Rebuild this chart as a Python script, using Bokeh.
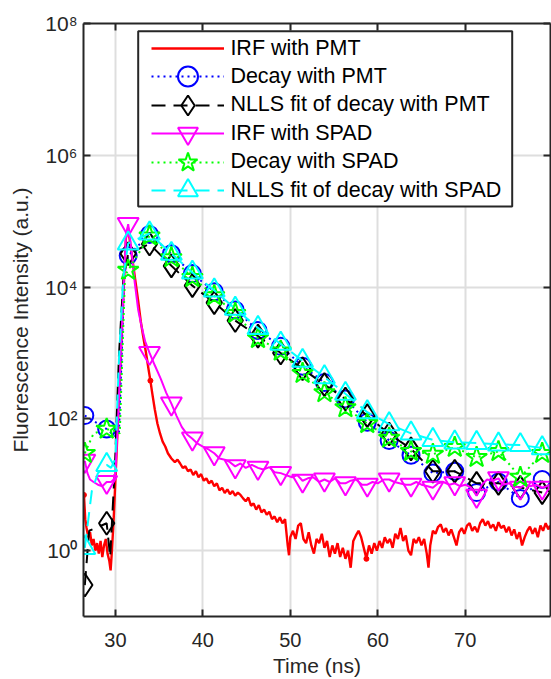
from bokeh.plotting import figure
from bokeh.models import (Range1d, FixedTicker, LinearAxis, LogAxis, Legend,
                          LegendItem, BoxAnnotation)
from bokeh.embed import file_html
from bokeh.resources import INLINE

FONT = "Liberation Sans"
AX = "#262626"

# ---------------- data ----------------
x_ticks = [30, 40, 50, 60, 70]
y_ticks = [1, 100, 1e4, 1e6, 1e8]
y_tick_labels = ["10⁰", "10²", "10⁴", "10⁶", "10⁸"]

# time of the markers (ns)
t_markers = [26.5, 29.0, 31.46, 33.9, 36.4, 38.8, 41.3, 43.7, 46.3, 48.9, 51.4,
             53.9, 56.3, 58.8, 61.3, 63.8, 66.3, 68.8, 71.3, 73.8, 76.3, 78.8]

# IRF with PMT (dense, noisy)
irf_pmt_t = [26.40, 26.55, 26.70, 26.90, 27.10, 27.30, 27.50, 27.70, 27.90, 28.10,
             28.30, 28.50, 28.70, 28.90, 29.10, 29.30, 29.45, 29.60, 29.80, 30.00,
             30.30, 30.60, 30.90, 31.20, 31.45, 31.70, 32.00, 32.30, 32.60, 32.90,
             33.20, 33.50, 33.80, 34.00, 34.20, 34.50, 34.80, 35.10, 35.40, 35.70,
             36.00, 36.40, 36.80, 37.10, 37.40, 37.70, 38.00, 38.30, 38.60, 38.90,
             39.20, 39.50, 39.80, 40.10, 40.40, 40.70, 41.00, 41.30, 41.60, 41.90,
             42.20, 42.50, 42.80, 43.10, 43.40, 43.70, 44.00, 44.30, 44.60, 44.90,
             45.20, 45.50, 45.80, 46.10, 46.40, 46.70, 47.00, 47.30, 47.60, 47.90,
             48.20, 48.50, 48.80, 49.10, 49.40, 49.70, 49.85, 50.00, 50.30, 50.60,
             50.90, 51.20, 51.50, 51.80, 52.10, 52.40, 52.70, 53.00, 53.30, 53.60,
             53.90, 54.20, 54.50, 54.80, 55.10, 55.40, 55.70, 56.00, 56.30, 56.60,
             56.90, 57.20, 57.50, 57.80, 58.10, 58.40, 58.70, 59.00, 59.30, 59.60,
             59.90, 60.20, 60.50, 60.80, 61.10, 61.40, 61.70, 62.00, 62.30, 62.60,
             62.90, 63.20, 63.50, 63.80, 64.10, 64.40, 64.70, 65.00, 65.30, 65.60,
             65.80, 66.00, 66.30, 66.60, 66.90, 67.20, 67.50, 67.80, 68.10, 68.40,
             68.70, 69.00, 69.30, 69.60, 69.90, 70.20, 70.50, 70.80, 71.10, 71.40,
             71.70, 72.00, 72.30, 72.60, 72.90, 73.20, 73.50, 73.80, 74.10, 74.40,
             74.70, 75.00, 75.30, 75.60, 75.90, 76.20, 76.50, 76.80, 77.10, 77.40,
             77.70, 78.00, 78.30, 78.60, 78.90, 79.20, 79.50, 79.70]
irf_pmt_v = [7.0, 3.0, 2.2, 1.6, 1.9, 1.2, 1.5, 1.0, 1.3, 0.9,
             1.4, 0.8, 1.2, 1.5, 0.9, 0.7, 0.5, 1.0, 3.0, 12,
             100, 800, 7000, 55000, 80000, 45000, 23000, 12000, 6200, 3000,
             1700, 1000, 550, 380, 250, 140, 85, 60, 45, 38,
             30, 25, 22, 24, 21, 18, 19, 16, 17, 14,
             16, 13, 14.5, 11.5, 12.5, 10.5, 11.5, 9.5, 10.5, 8.2,
             9.0, 7.5, 8.5, 7.2, 8.0, 6.8, 7.6, 7.0, 6.2, 5.6,
             6.4, 4.8, 5.2, 4.2, 4.9, 3.8, 4.2, 3.5, 3.9, 3.0,
             3.3, 2.7, 3.2, 2.6, 3.0, 1.2, 0.85, 1.6, 2.0, 1.5,
             2.4, 2.6, 1.5, 1.3, 1.9, 1.2, 0.9, 1.5, 1.3, 1.8,
             1.1, 1.4, 0.8, 1.2, 0.9, 1.3, 0.8, 1.1, 0.75, 1.0,
             0.55, 1.4, 1.7, 2.0, 1.6, 1.1, 0.75, 1.2, 0.9, 1.3,
             1.0, 1.4, 1.1, 1.6, 1.3, 1.5, 1.1, 1.8, 1.5, 2.2,
             1.4, 1.7, 1.0, 0.85, 1.5, 1.3, 1.6, 1.2, 1.5, 0.9,
             0.55, 1.2, 2.0, 1.8, 2.3, 2.5, 1.9, 2.2, 1.7, 2.1,
             1.6, 1.2, 1.9, 2.2, 1.8, 2.4, 2.6, 2.0, 2.3, 1.9,
             2.6, 3.0, 2.4, 2.8, 2.2, 2.5, 2.0, 2.7, 2.2, 2.4,
             1.9, 2.3, 1.7, 2.1, 1.5, 1.9, 1.2, 1.6, 2.0, 2.3,
             1.8, 2.2, 1.6, 2.4, 2.0, 2.6, 2.1, 2.4]
irf_pmt_dot_t = [26.40, 34.00, 58.70]
irf_pmt_dot_v = [7.0, 380, 0.75]

# Decay with PMT
decay_pmt_t = [26.5, 29.0, 29.9, 30.4, 30.7, 31.0, 31.46, 33.9, 36.4, 38.8, 41.3,
               43.7, 46.3, 48.9, 51.4, 53.9, 56.3, 58.8, 61.3, 63.8, 66.3, 68.8,
               71.3, 73.8, 76.3, 78.8]
decay_pmt_v = [112, 70, 55, 60, 800, 15000, 30000, 63000, 32000, 16000, 8500,
               4500, 2200, 1260, 630, 355, 200, 89, 47, 28, 15, 16,
               7.6, 11, 6.2, 12]
decay_pmt_mk = [112, 70, 30000, 63000, 32000, 16000, 8500, 4500, 2200, 1260, 630,
                355, 200, 89, 47, 28, 15, 16, 7.6, 11, 6.2, 12]

# NLLS fit of decay with PMT
fit_pmt_t = [26.5, 27.0, 29.0, 29.4, 29.97, 30.4, 30.9, 31.46, 33.9, 36.4, 38.8,
             41.3, 43.7, 46.3, 48.9, 51.4, 53.9, 56.3, 58.8, 61.3, 63.8, 66.3,
             68.8, 71.3, 73.8, 76.3, 78.8]
fit_pmt_v = [0.3, 2.0, 2.6, 0.8, 23, 900, 12600, 32000, 45000, 21000, 10500,
             5800, 3100, 1800, 1000, 575, 330, 200, 112, 59, 35, 16,
             16, 10.5, 10.5, 9.1, 7.6]
fit_pmt_mk = [0.3, 2.6, 32000, 45000, 21000, 10500, 5800, 3100, 1800, 1000, 575,
              330, 200, 112, 59, 35, 16, 16, 10.5, 10.5, 9.1, 7.6]

# IRF with SPAD
irf_spad_t = [26.5, 26.8, 27.1, 27.5, 28.0, 28.5, 29.0, 29.5, 29.8, 30.0, 30.3,
              30.6, 30.9, 31.2, 31.46, 31.8, 32.2, 32.6, 33.0, 33.4, 33.9, 34.5,
              35.2, 35.8, 36.4, 37.0, 37.6, 38.2, 38.8, 39.4, 40.0, 40.7, 41.3,
              41.9, 42.5, 43.1, 43.7, 44.3, 44.9, 45.6, 46.3, 46.9, 47.6, 48.2,
              48.9, 49.5, 50.2, 50.8, 51.4, 52.0, 52.6, 53.3, 53.9, 54.5, 55.1,
              55.7, 56.3, 56.9, 57.5, 58.2, 58.8, 59.4, 60.0, 60.7, 61.3, 61.9,
              62.5, 63.2, 63.8, 64.4, 65.0, 65.7, 66.3, 66.9, 67.5, 68.2, 68.8,
              69.4, 70.0, 70.7, 71.3, 71.9, 72.5, 73.1, 73.8, 74.3, 75.0, 75.6,
              76.3, 76.8, 77.4, 78.1, 78.8, 79.3, 79.7]
irf_spad_v = [23, 15, 12, 11, 10, 9.5, 11, 11, 12, 15, 100,
              900, 8000, 60000, 90000, 40000, 12000, 4500, 2500, 1500, 1000, 650,
              400, 250, 170, 110, 75, 58, 50, 42, 38, 34, 30,
              25, 24, 22, 19, 21, 18, 20, 18, 17, 18.5, 15.5,
              15, 14, 13, 14, 11.5, 12.5, 13, 11, 12, 11, 12.5,
              10.5, 10.5, 11.5, 12, 10, 10, 11, 10.5, 12, 12, 11,
              10.5, 10, 10, 11, 10, 9.5, 9, 10.5, 11, 10, 10.5,
              9.5, 10, 9, 6.8, 10, 12, 11.5, 12.5, 10, 10.5, 9.5,
              9, 10, 9.5, 10, 9, 9.5, 10]
irf_spad_mk = [23, 11, 90000, 1000, 170, 50, 30, 19, 18, 15, 11.5,
               12, 10.5, 10, 12, 10, 9, 10.5, 6.8, 12.5, 9, 9]

# Decay with SPAD
decay_spad_t = [26.5, 27.5, 29.0, 30.0, 30.5, 30.8, 31.1, 31.46, 33.9, 36.4, 38.8,
                41.3, 43.7, 46.3, 48.9, 51.4, 53.9, 56.3, 58.8, 61.3, 63.8, 66.3,
                68.8, 71.3, 73.8, 76.3, 78.8]
decay_spad_v = [30, 60, 70, 65, 60, 1000, 15000, 18000, 60000, 28000, 14000,
                7400, 4000, 1660, 1070, 490, 250, 148, 85, 51, 32, 29,
                37, 26, 32, 13, 30]
decay_spad_mk = [30, 70, 18000, 60000, 28000, 14000, 7400, 4000, 1660, 1070, 490,
                 250, 148, 85, 51, 32, 29, 37, 26, 32, 13, 30]

# NLLS fit of decay with SPAD
fit_spad_t = [26.5, 27.3, 28.0, 29.0, 29.5, 30.0, 30.4, 30.9, 31.46, 33.9, 36.4,
              38.8, 41.3, 43.7, 46.3, 48.9, 51.4, 53.9, 56.3, 58.8, 61.3, 63.8,
              66.3, 68.8, 71.3, 73.8, 76.3, 78.8]
fit_spad_v = [1.1, 8, 15, 20, 18, 25, 800, 14000, 46000, 65000, 32000,
              16600, 8900, 4700, 2400, 1380, 760, 430, 240, 126, 83, 60,
              48, 44, 43, 41, 40, 36]
fit_spad_mk = [1.1, 20, 46000, 65000, 32000, 16600, 8900, 4700, 2400, 1380, 760,
               430, 240, 126, 83, 60, 48, 44, 43, 41, 40, 36]

series_labels = ["IRF with PMT", "Decay with PMT", "NLLS fit of decay with PMT",
                 "IRF with SPAD", "Decay with SPAD", "NLLS fit of decay with SPAD"]

# ---------------- figure ----------------
FRAME_TOP = 23
FRAME_H = 594
p = figure(width=551, height=679, x_range=Range1d(26.35, 79.75),
           y_range=Range1d(0.1, 1e8), y_axis_type="log",
           output_backend="svg", toolbar_location=None,
           min_border_left=83, min_border_right=1, min_border_top=FRAME_TOP,
           min_border_bottom=679 - FRAME_TOP - FRAME_H)
p.outline_line_color = None
p.background_fill_color = "white"
p.border_fill_color = "white"


def style_axis(ax, show_labels=True):
    ax.axis_line_color = AX
    ax.axis_line_width = 2
    ax.major_tick_line_color = AX
    ax.major_tick_line_width = 2
    ax.major_tick_in = 7
    ax.major_tick_out = 0
    ax.minor_tick_line_color = None
    ax.major_label_text_font = FONT
    ax.axis_label_text_font = FONT
    ax.axis_label_text_color = AX
    ax.axis_label_text_font_style = "normal"
    ax.axis_label_text_font_size = "21px"
    if show_labels:
        ax.major_label_text_font_size = "21px"
        ax.major_label_text_color = AX
    else:
        ax.major_label_text_font_size = "1px"
        ax.major_label_text_color = None
        ax.major_label_standoff = 0


xa = p.xaxis[0]
ya = p.yaxis[0]
xa.ticker = FixedTicker(ticks=x_ticks)
ya.ticker = FixedTicker(ticks=y_ticks)
ya.major_label_overrides = {t: s for t, s in zip(y_ticks, y_tick_labels)}
style_axis(xa)
style_axis(ya)
xa.major_label_text_font_size = "20px"
xa.axis_label = "Time (ns)"
ya.axis_label = "Fluorescence Intensity (a.u.)"
xa.major_label_standoff = 16
xa.axis_label_standoff = 4
xa.major_label_text_line_height = 0.9
xa.axis_label_text_line_height = 0.9
ya.major_label_standoff = 6
ya.axis_label_standoff = 10

top = LinearAxis(ticker=FixedTicker(ticks=x_ticks))
style_axis(top, False)
right = LogAxis(ticker=FixedTicker(ticks=y_ticks))
style_axis(right, False)
p.add_layout(top, "above")
p.add_layout(right, "right")

p.xgrid.ticker = FixedTicker(ticks=x_ticks)
p.ygrid.ticker = FixedTicker(ticks=y_ticks)
for g in (p.xgrid, p.ygrid):
    g.grid_line_color = "#dedede"
    g.grid_line_width = 2

LW = 2
# red: IRF with PMT
r_red = p.line(irf_pmt_t, irf_pmt_v, line_color="#ff0000", line_width=2.4)
p.scatter(irf_pmt_dot_t, irf_pmt_dot_v, marker="circle", size=5,
          fill_color="#ff0000", line_color="#ff0000")
# blue: decay with PMT
l_blue = p.line(decay_pmt_t, decay_pmt_v, line_color="#0000ff", line_width=LW,
                line_dash="2 4")
m_blue = p.scatter(t_markers, decay_pmt_mk, marker="circle", size=17,
                   fill_alpha=0, line_color="#0000ff", line_width=LW)
# black: fit PMT
l_blk = p.line(fit_pmt_t, fit_pmt_v, line_color="black", line_width=LW,
               line_dash="14 8")
m_blk = p.scatter(t_markers, fit_pmt_mk, marker="diamond", size=23,
                  fill_alpha=0, line_color="black", line_width=LW)
# magenta: IRF with SPAD
l_mag = p.line(irf_spad_t, irf_spad_v, line_color="#ff00ff", line_width=LW)
m_mag = p.scatter(t_markers, irf_spad_mk, marker="inverted_triangle", size=21,
                  fill_alpha=0, line_color="#ff00ff", line_width=LW)
# green: decay with SPAD
l_grn = p.line(decay_spad_t, decay_spad_v, line_color="#00ff00", line_width=LW,
               line_dash="2 4")
m_grn = p.scatter(t_markers, decay_spad_mk, marker="star", size=22,
                  fill_alpha=0, line_color="#00ff00", line_width=LW)
# cyan: fit SPAD
l_cyn = p.line(fit_spad_t, fit_spad_v, line_color="#00ffff", line_width=LW,
               line_dash="14 8")
m_cyn = p.scatter(t_markers, fit_spad_mk, marker="triangle", size=21,
                  fill_alpha=0, line_color="#00ffff", line_width=LW)

# legend box (canvas pixels)
box = BoxAnnotation(left=137.7, right=511.7, top=30.7, bottom=206,
                    left_units="canvas", right_units="canvas",
                    top_units="canvas", bottom_units="canvas",
                    fill_color="white", fill_alpha=1.0,
                    line_color="#262626", line_width=2, line_alpha=1.0)
p.add_layout(box)

# one legend per row so that the sample markers keep full size
item_renderers = [[r_red], [l_blue, m_blue], [l_blk, m_blk], [l_mag, m_mag],
                  [l_grn, m_grn], [l_cyn, m_cyn]]
ROW0, PITCH, GH = 49.0, 28.4, 50
for i, (lab, rends) in enumerate(zip(series_labels, item_renderers)):
    centre = ROW0 + PITCH * i
    vy = FRAME_H - (centre - FRAME_TOP) - GH / 2
    lg = Legend(items=[LegendItem(label=lab, renderers=rends)],
                location=(68.4, vy), glyph_width=73, glyph_height=GH,
                label_height=GH, spacing=0, padding=0, margin=0,
                label_standoff=6, border_line_color=None,
                background_fill_alpha=0, label_text_font=FONT,
                label_text_font_size="21.5px", label_text_color="black")
    p.add_layout(lg)

open("out.html", "w").write(file_html(p, INLINE))
